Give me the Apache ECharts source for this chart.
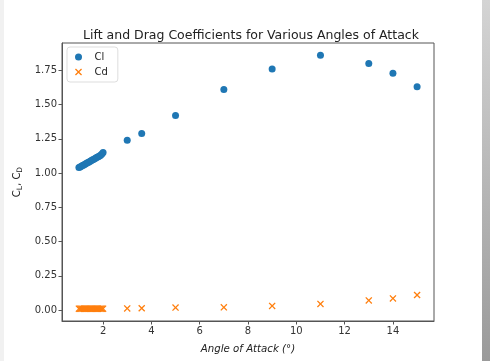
<!DOCTYPE html>
<html>
<head>
<meta charset="utf-8">
<script src="https://cdn.jsdelivr.net/npm/echarts@6/dist/echarts.min.js"></script>
<style>
  html, body { margin: 0; padding: 0; background: #fff; }
  #chart { width: 490px; height: 361px; }
</style>
</head>
<body>
<div id="chart"></div>
<script>
// angle of attack (deg)
const angles = [1.0, 1.05, 1.1, 1.15, 1.2, 1.25, 1.3, 1.35, 1.4, 1.45, 1.5, 1.55, 1.6, 1.65, 1.7, 1.75, 1.8, 1.85, 1.9, 1.95, 2.0,
  3, 3.6, 5, 7, 9, 11, 13, 14, 15];
// lift coefficient
const clValues = [1.04, 1.045, 1.05, 1.055, 1.06, 1.065, 1.07, 1.075, 1.08, 1.085, 1.09, 1.095, 1.10, 1.105, 1.11, 1.115, 1.12, 1.125, 1.13, 1.14, 1.15,
  1.24, 1.29, 1.42, 1.61, 1.76, 1.86, 1.80, 1.73, 1.63];
// drag coefficient
const cdValues = [0.01, 0.01, 0.01, 0.01, 0.01, 0.01, 0.01, 0.01, 0.01, 0.01, 0.01, 0.01, 0.01, 0.01, 0.01, 0.01, 0.01, 0.01, 0.01, 0.01, 0.01,
  0.012, 0.013, 0.018, 0.02, 0.03, 0.045, 0.07, 0.085, 0.11];
// tick labels
const xTicks = [2, 4, 6, 8, 10, 12, 14];
const yTicks = [0, 0.25, 0.5, 0.75, 1.0, 1.25, 1.5, 1.75];

const font = "DejaVu Sans";
const xMark = "path://M0,1.3L1.3,0L5,3.7L8.7,0L10,1.3L6.3,5L10,8.7L8.7,10L5,6.3L1.3,10L0,8.7L3.7,5Z";

let chart = echarts.init(document.getElementById("chart"));
let option = {
  animation: false,
  textStyle: { fontFamily: font },
  title: {
    text: "Lift and Drag Coefficients for Various Angles of Attack",
    left: 246,
    textAlign: "center",
    top: 24,
    textStyle: { fontFamily: font, fontSize: 12.5, fontWeight: "normal", color: "#222" },
  },
  grid: {
    left: 62, right: 56, top: 43, bottom: 40,
    show: true, borderColor: "#555", borderWidth: 1,
  },
  legend: {
    orient: "vertical",
    left: 67, top: 47,
    padding: [5, 10, 5, 8],
    itemGap: 5,
    itemWidth: 14, itemHeight: 7,
    borderColor: "#ddd", borderWidth: 1, borderRadius: 3,
    backgroundColor: "#fff",
    textStyle: { fontFamily: font, fontSize: 10, color: "#222", padding: [0, 0, 0, 4] },
    data: ["Cl", "Cd"],
  },
  xAxis: {
    type: "value",
    min: 0.3, max: 15.7,
    name: "Angle of Attack (°)",
    nameLocation: "middle",
    nameGap: 23,
    nameTextStyle: { fontFamily: font, fontSize: 10.2, fontStyle: "italic", color: "#222" },
    axisLine: { show: true, onZero: false, lineStyle: { color: "#555" } },
    axisTick: { show: true, length: 3.5, customValues: xTicks, lineStyle: { color: "#555" } },
    axisLabel: { customValues: xTicks, fontFamily: font, fontSize: 10, color: "#333", margin: 5 },
    splitLine: { show: false },
  },
  yAxis: {
    type: "value",
    min: -0.08, max: 1.95,
    name: "C{s|L}, C{s|D}",
    nameLocation: "middle",
    nameGap: 36,
    nameRotate: 90,
    nameTextStyle: {
      fontFamily: font, fontSize: 10, color: "#222",
      rich: { s: { fontFamily: font, fontSize: 7.5, color: "#222", verticalAlign: "bottom", padding: [4, 0, 0, 0] } },
    },
    axisLine: { show: true, onZero: false, lineStyle: { color: "#555" } },
    axisTick: { show: true, length: 3.5, customValues: yTicks, lineStyle: { color: "#555" } },
    axisLabel: {
      customValues: yTicks, fontFamily: font, fontSize: 10, color: "#333", margin: 5,
      formatter: (v) => v.toFixed(2),
    },
    splitLine: { show: false },
  },
  series: [
    {
      name: "Cl",
      type: "scatter",
      symbol: "circle",
      symbolSize: 7,
      itemStyle: { color: "#1f77b4", opacity: 1 },
      data: angles.map((a, i) => [a, clValues[i]]),
    },
    {
      name: "Cd",
      type: "scatter",
      symbol: xMark,
      symbolSize: 7,
      itemStyle: { color: "#ff7f0e", opacity: 1 },
      data: angles.map((a, i) => [a, cdValues[i]]),
    },
  ],
  graphic: [
    {
      type: "rect",
      shape: { x: 482, y: 0, width: 8, height: 361 },
      style: {
        fill: new echarts.graphic.LinearGradient(0, 0, 0, 1, [
          { offset: 0, color: "#d4d4d4" },
          { offset: 1, color: "#9a9a9a" },
        ]),
      },
    },
    {
      type: "rect",
      shape: { x: 0, y: 0, width: 4, height: 361 },
      style: { fill: "#f1f1f1" },
    },
  ],
};
chart.setOption(option);
</script>
</body>
</html>
